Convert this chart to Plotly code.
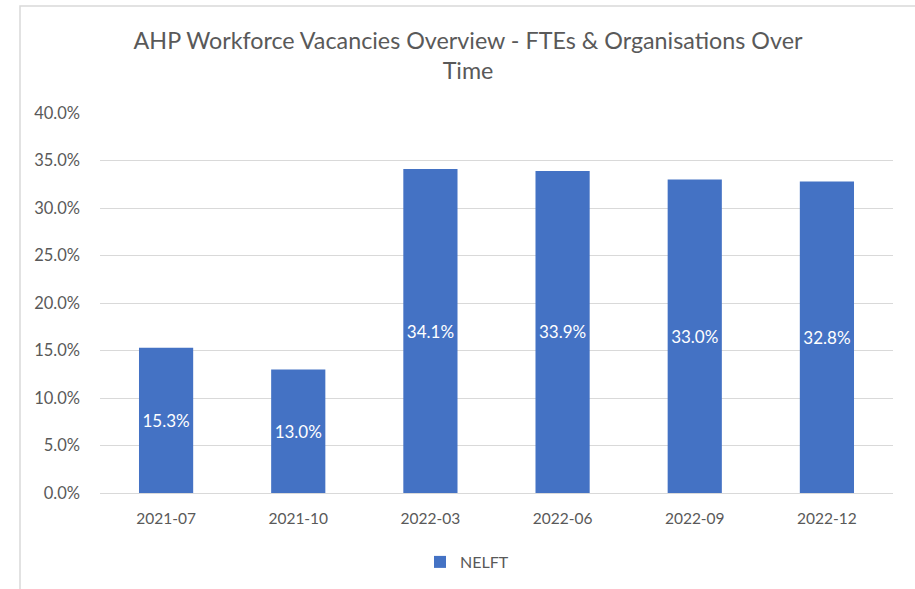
import plotly.graph_objects as go

categories = ["2021-07", "2021-10", "2022-03", "2022-06", "2022-09", "2022-12"]
values = [15.3, 13.0, 34.1, 33.9, 33.0, 32.8]
series_name = "NELFT"
title_text = "AHP Workforce Vacancies Overview - FTEs & Organisations Over<br>Time"
y_ticks = [0, 5, 10, 15, 20, 25, 30, 35, 40]

W, H = 915, 589
L, R, T, B = 100, 22, 113, 96
pw = W - L - R
ph = H - T - B

font_family = "Lato, Open Sans, sans-serif"
grey = "#595959"

fig = go.Figure()
fig.add_trace(go.Bar(
    x=categories,
    y=values,
    name=series_name,
    marker=dict(color="#4472C4", line=dict(width=0)),
    text=[f"{v:.1f}%" for v in values],
    textposition="inside",
    insidetextanchor="middle",
    textangle=0,
    textfont=dict(color="white", size=17, family=font_family),
    showlegend=True,
))

fig.update_layout(
    width=W, height=H,
    margin=dict(l=L, r=R, t=T, b=B),
    paper_bgcolor="white",
    plot_bgcolor="white",
    bargap=0.59,
    title=dict(
        text=title_text,
        x=468 / W, xanchor="center", xref="container",
        y=1 - 49 / H, yanchor="middle", yref="container",
        font=dict(size=23.3, color=grey, family=font_family),
    ),
    font=dict(family=font_family, color=grey, size=15),
    showlegend=True,
    legend=dict(
        orientation="h",
        xref="container", yref="container",
        x=467 / W, xanchor="center",
        y=1 - 562 / H, yanchor="middle",
        font=dict(size=16, color=grey),
        itemwidth=30,
    ),
    yaxis=dict(
        range=[0, 40],
        tickvals=y_ticks,
        ticktext=[f"{t:.1f}%" for t in y_ticks],
        showgrid=True, gridcolor="#D9D9D9", gridwidth=1,
        zeroline=False,
        showline=False,
        ticks="",
        ticklabelstandoff=19,
        tickfont=dict(size=16.5, color=grey),
    ),
    xaxis=dict(
        type="category",
        showline=True, linecolor="#D9D9D9", linewidth=1,
        ticks="",
        tickfont=dict(size=15.5, color=grey),
        ticklabelstandoff=11,
    ),
    shapes=[dict(
        type="rect", xref="paper", yref="paper",
        x0=(20 - L) / pw, x1=1.2,
        y0=-0.5, y1=(H - B - 6) / ph,
        line=dict(color="#D9D9D9", width=1.5),
        fillcolor="rgba(0,0,0,0)",
        layer="below",
    )],
)

fig.write_html("out.html", config={"displayModeBar": False},
               post_script="document.body.style.margin='0';")
